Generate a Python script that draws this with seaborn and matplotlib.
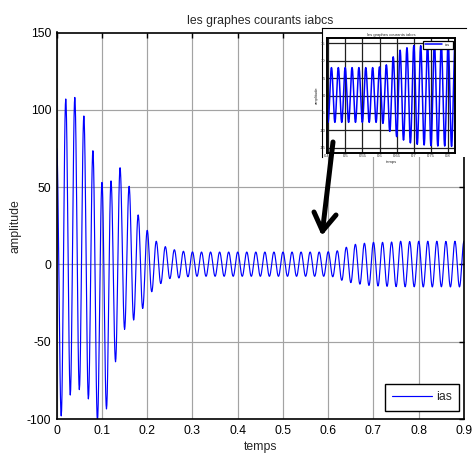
import numpy as np
import pandas as pd
import matplotlib
matplotlib.use("Agg")
import matplotlib.pyplot as plt
from matplotlib.lines import Line2D
import seaborn as sns

# 50 Hz phase current: value of every positive peak (t = 0, 0.02, ... 0.90 s)
peak_vals = [75, 107, 108, 96, 73.5, 53, 54, 62.5, 50.5, 32,
             22, 15, 11.5, 9.5, 8.5, 8.1, 8, 8, 8, 8,
             8, 8, 8, 8, 8, 8, 8, 8, 8, 8,
             8.2, 8.8, 11.1, 13, 13.7, 14.3, 14.3, 14.5, 15, 14.8,
             15, 15, 15, 14.9, 15, 15]
# value of every negative peak (t = 0.01, 0.03, ... 0.89 s)
trough_vals = [-98, -84.5, -81, -87, -101, -93.5, -63, -42, -36, -28.5,
               -17.7, -12.4, -9.2, -8.8, -8, -7.7, -7.7, -7.7, -7.7, -7.7,
               -7.7, -7.7, -7.7, -7.7, -7.7, -7.7, -7.7, -7.7, -7.7, -7.7,
               -8, -10.3, -11.8, -12.8, -13.6, -14, -14.2, -14.4, -14.5, -14.5,
               -14.6, -14.6, -14.5, -14.6, -14.6]
period = 0.02

x_ticks = [0, 0.1, 0.2, 0.3, 0.4, 0.5, 0.6, 0.7, 0.8, 0.9]
y_ticks = [-100, -50, 0, 50, 100, 150]
inset_x_ticks = [0.45, 0.5, 0.55, 0.6, 0.65, 0.7, 0.75, 0.8]
inset_y_ticks = [-15, -10, -5, 0, 5, 10, 15]

# alternate extrema, joined by half-cosine arcs
ext_t, ext_v = [], []
for k, p in enumerate(peak_vals):
    ext_t.append(k * period)
    ext_v.append(p)
    if k < len(trough_vals):
        ext_t.append(k * period + period / 2)
        ext_v.append(trough_vals[k])

tt, vv = [], []
for i in range(len(ext_t) - 1):
    s = np.linspace(0, 1, 12, endpoint=False)
    a, b = ext_v[i], ext_v[i + 1]
    tt.extend(ext_t[i] + s * (ext_t[i + 1] - ext_t[i]))
    vv.extend((a + b) / 2 + (a - b) / 2 * np.cos(np.pi * s))
tt.append(ext_t[-1])
vv.append(ext_v[-1])
df = pd.DataFrame({"temps": tt, "ias": vv})

sns.set_style("white")
plt.rcParams["font.family"] = ["Liberation Sans", "DejaVu Sans"]

W, H = 472, 463
fig = plt.figure(figsize=(W / 100, H / 100), dpi=100)


def fx(px):
    return px / W


def fy(py):
    return 1 - py / H


ax = fig.add_axes([fx(56.7), fy(419), fx(464) - fx(56.7), fy(32.5) - fy(419)])
sns.lineplot(data=df, x="temps", y="ias", ax=ax, color="#0000ff", lw=0.85,
             estimator=None, sort=False, label="ias")
ax.set_xlim(0, 0.9)
ax.set_ylim(-100, 150)
ax.set_xticks(x_ticks)
ax.set_xticklabels([f"{v:g}" for v in x_ticks])
ax.set_yticks(y_ticks)
ax.set_yticklabels([f"{v:g}" for v in y_ticks])
ax.grid(True, color="#a3a3a3", lw=0.85)
ax.tick_params(direction="in", length=3.5, width=1, top=True, right=True,
               labelsize=8.8, colors="black", pad=4)
for sp in ax.spines.values():
    sp.set_color("black")
    sp.set_linewidth(1.2)
ax.set_title("les graphes courants iabcs", fontsize=8.8, pad=6)
ax.set_xlabel("temps", fontsize=8.8, labelpad=3)
ax.set_ylabel("amplitude", fontsize=8.8, labelpad=4)
leg = ax.legend(loc="lower right", bbox_to_anchor=(1.003, 0.006), fontsize=8.8,
                frameon=True, fancybox=False, framealpha=1, edgecolor="black",
                handlelength=3.3, borderpad=0.6, handletextpad=0.3)
leg.get_frame().set_linewidth(1.0)

# zoomed view pasted in the upper right corner
bg = fig.add_axes([fx(322), fy(157), fx(466) - fx(322), fy(28) - fy(157)])
bg.set_facecolor("white")
bg.set_xticks([])
bg.set_yticks([])
for sp in bg.spines.values():
    sp.set_visible(False)
bg.spines["left"].set_visible(True)
bg.spines["top"].set_visible(True)
bg.spines["left"].set_color("black")
bg.spines["top"].set_color("black")
bg.spines["left"].set_linewidth(0.8)
bg.spines["top"].set_linewidth(0.8)

ins = fig.add_axes([fx(327), fy(153), fx(455) - fx(327), fy(38) - fy(153)])
sns.lineplot(data=df, x="temps", y="ias", ax=ins, color="#0000ff", lw=1.1,
             estimator=None, sort=False, label="ias")
ins.set_xlim(0.447, 0.82)
ins.set_ylim(-16.5, 16.5)
ins.set_xticks(inset_x_ticks)
ins.set_xticklabels([f"{v:g}" for v in inset_x_ticks])
ins.set_yticks(inset_y_ticks)
ins.set_yticklabels([f"{v:g}" for v in inset_y_ticks])
ins.grid(True, color="#202020", lw=0.9)
ins.tick_params(direction="in", length=1.5, width=0.6, top=True, right=True,
                labelsize=3, pad=1)
for sp in ins.spines.values():
    sp.set_color("black")
    sp.set_linewidth(1.4)
ins.set_title("les graphes courants iabcs", fontsize=3, pad=1.5)
ins.set_xlabel("temps", fontsize=3, labelpad=1)
ins.set_ylabel("amplitude", fontsize=3, labelpad=1)
ileg = ins.legend(loc="upper right", fontsize=3, frameon=True, fancybox=False,
                  framealpha=1, edgecolor="black", handlelength=4,
                  borderpad=0.5, borderaxespad=0.6)
ileg.get_frame().set_linewidth(0.9)

# pointer from the zoomed view down to the signal
arrow_kw = dict(color="black", lw=3.6, solid_capstyle="round",
                transform=fig.transFigure, zorder=20)
fig.add_artist(Line2D([fx(333), fx(322.5)], [fy(142), fy(231)], **arrow_kw))
fig.add_artist(Line2D([fx(314), fx(322.5)], [fy(212), fy(231)], **arrow_kw))
fig.add_artist(Line2D([fx(336), fx(322.5)], [fy(215), fy(231)], **arrow_kw))

fig.savefig("out.png", dpi=100, facecolor="white")
